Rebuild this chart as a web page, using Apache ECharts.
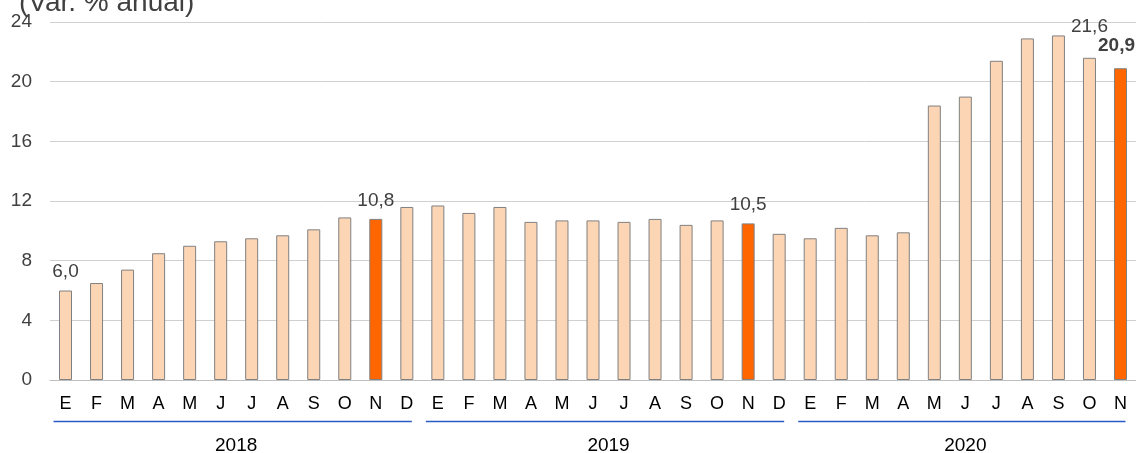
<!DOCTYPE html>
<html>
<head>
<meta charset="utf-8">
<script src="https://cdn.jsdelivr.net/npm/echarts@6/dist/echarts.min.js"></script>
<style>
  html, body { margin: 0; padding: 0; background: #fff; }
  #chart { width: 1136px; height: 453px; }
</style>
</head>
<body>
<div id="chart"></div>
<script>
// meses por año
var months = ['E', 'F', 'M', 'A', 'M', 'J', 'J', 'A', 'S', 'O', 'N', 'D'];
var years = ['2018', '2019', '2020'];
var values2018 = [6.0, 6.5, 7.4, 8.5, 9.0, 9.3, 9.5, 9.7, 10.1, 10.9, 10.8, 11.6];
var values2019 = [11.7, 11.2, 11.6, 10.6, 10.7, 10.7, 10.6, 10.8, 10.4, 10.7, 10.5, 9.8];
var values2020 = [9.5, 10.2, 9.7, 9.9, 18.4, 19.0, 21.4, 22.9, 23.1, 21.6, 20.9];
var yTicks = [0, 4, 8, 12, 16, 20, 24];
// índices resaltados (noviembre) y etiquetas visibles
var highlighted = [10, 22, 34];
var labelled = [0, 10, 22, 33, 34];

var FONT = 'Liberation Sans, Arial, sans-serif';

var yearValues = [values2018, values2019, values2020];
var categories = [];
var values = [];
var yearRanges = [];
yearValues.forEach(function (arr, y) {
  var start = values.length;
  arr.forEach(function (v, i) {
    categories.push(months[i]);
    values.push(v);
  });
  yearRanges.push([start, values.length - 1]);
});

var fmt = function (v) { return v.toFixed(1).replace('.', ','); };

var seriesData = values.map(function (v, i) {
  var item = {
    value: v,
    itemStyle: {
      color: highlighted.indexOf(i) >= 0 ? '#ff6600' : '#fcd5b5',
      borderColor: '#808080',
      borderWidth: 1
    }
  };
  if (labelled.indexOf(i) >= 0) {
    item.label = {
      show: true,
      position: 'top',
      distance: 9,
      formatter: fmt(v),
      color: '#404040',
      fontSize: 19
    };
  }
  return item;
});
seriesData[33].label.distance = 22;
seriesData[34].label.distance = 13;
seriesData[34].label.fontWeight = 'bold';
seriesData[34].label.offset = [-4, 0];

var chart = echarts.init(document.getElementById('chart'));
var options = {
  backgroundColor: '#fff',
  animation: false,
  textStyle: { fontFamily: FONT },
  title: {
    text: '(Var. % anual)',
    left: 14,
    top: -16,
    textStyle: { fontSize: 28, fontWeight: 'normal', color: '#404040' }
  },
  grid: { left: 50, top: 22, width: 1090, height: 358 },
  xAxis: {
    type: 'category',
    data: categories,
    axisLine: { show: true, lineStyle: { color: '#bfbfbf' } },
    axisTick: { show: false },
    axisLabel: { interval: 0, margin: 15, fontSize: 18, color: '#000' }
  },
  yAxis: {
    type: 'value',
    min: yTicks[0],
    max: yTicks[yTicks.length - 1],
    interval: 4,
    axisLine: { show: false },
    axisTick: { show: false },
    axisLabel: { fontSize: 19, color: '#404040', margin: 18 },
    splitLine: { lineStyle: { color: '#d0d0d0', width: 1 } }
  },
  series: [{
    type: 'bar',
    data: seriesData,
    barWidth: 13
  }]
};
chart.setOption(options);

// líneas azules y años bajo los meses
var graphics = [];
yearRanges.forEach(function (r, y) {
  var x0 = chart.convertToPixel({ xAxisIndex: 0 }, r[0]);
  var x1 = chart.convertToPixel({ xAxisIndex: 0 }, r[1]);
  var yLine = Math.round(chart.convertToPixel({ yAxisIndex: 0 }, 0) + 41) + 0.5;
  graphics.push({
    type: 'line',
    shape: { x1: x0 - 12, y1: yLine, x2: x1 + 5, y2: yLine },
    style: { stroke: '#2a5cc4', lineWidth: 1.5 }
  });
  graphics.push({
    type: 'text',
    x: (x0 + x1) / 2,
    y: yLine + 24,
    style: {
      text: years[y],
      fill: '#000',
      fontSize: 19,
      fontFamily: FONT,
      align: 'center',
      verticalAlign: 'middle'
    }
  });
});
chart.setOption({ graphic: graphics });
</script>
</body>
</html>
